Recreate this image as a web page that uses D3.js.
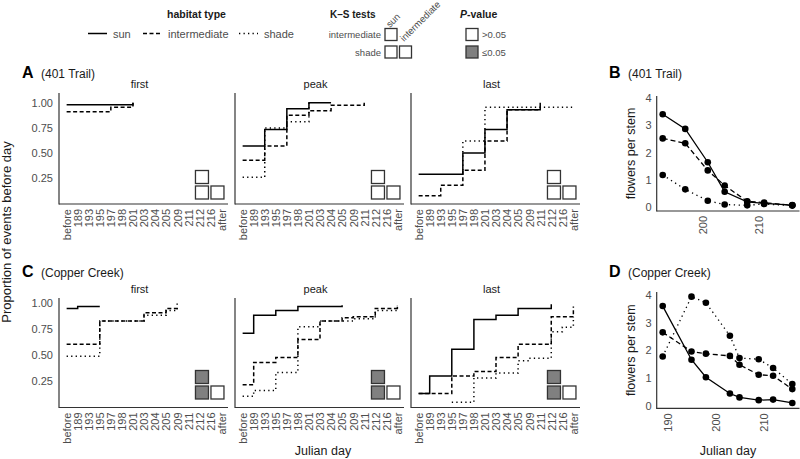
<!DOCTYPE html>
<html><head><meta charset="utf-8">
<script src="https://cdn.jsdelivr.net/npm/d3@7"></script>
<style>body{margin:0;background:#fff}svg{font-family:"Liberation Sans",Arial,Helvetica,sans-serif}</style>
</head><body><svg id="c" width="800" height="459"></svg>
<script>
// ---------- data ----------
const categories = ["before","189","193","195","197","198","201","203","204","205","209","211","212","216","after"];
const habitats = ["sun","intermediate","shade"];
const stages = ["first","peak","last"];
const propTicks = [0.25,0.5,0.75,1.0];

// 401 Trail cumulative proportions  [category, proportion]
const trailFirstSun   = [["before",0.98],["201",1.0]];
const trailFirstInt   = [["before",0.91],["197",0.955],["201",1.0]];
const trailFirstShade = [];
const trailPeakSun    = [["before",0.57],["193",0.735],["197",0.94],["201",1.0],["204",1.0]];
const trailPeakInt    = [["before",0.43],["193",0.57],["197",0.875],["201",0.92],["204",0.975],["211",1.0]];
const trailPeakShade  = [["before",0.26],["193",0.75],["197",0.81],["201",1.0]];
const trailLastSun    = [["before",0.29],["197",0.50],["201",0.735],["204",0.93],["211",1.0]];
const trailLastInt    = [["before",0.078],["193",0.18],["197",0.33],["201",0.62],["204",0.93],["211",0.93]];
const trailLastShade  = [["197",0.33],["197",0.62],["201",0.955],["after",0.955]];

// Copper Creek cumulative proportions
const copperFirstSun   = [["before",0.95],["189",0.97],["195",0.97]];
const copperFirstInt   = [["before",0.605],["195",0.83],["203",0.91],["205",0.95],["209",0.96]];
const copperFirstShade = [["before",0.49],["195",0.83],["203",0.885],["205",0.93],["209",1.0]];
const copperPeakSun    = [["before",0.71],["189",0.885],["195",0.93],["198",0.97],["205",0.98]];
const copperPeakInt    = [["before",0.215],["189",0.43],["195",0.477],["198",0.65],["203",0.83],["205",0.86],["209",0.87],["212",0.95],["after",0.98]];
const copperPeakShade  = [["before",0.103],["189",0.16],["195",0.333],["198",0.773],["203",0.83],["209",0.85],["212",0.93],["after",0.97]];
const copperLastSun    = [["before",0.13],["189",0.30],["195",0.557],["198",0.844],["203",0.885],["205",0.95],["212",0.99]];
const copperLastInt    = [["before",0.13],["195",0.30],["198",0.343],["203",0.477],["205",0.605],["212",0.87],["after",0.97]];
const copperLastShade  = [["195",0.046],["198",0.28],["203",0.327],["205",0.445],["209",0.47],["212",0.725],["216",0.77],["after",0.87]];

// K-S significance: [intermediate vs sun, shade vs sun, shade vs intermediate]  (true = P<=0.05)
const trailFirstKS  = [false,false,false];
const trailPeakKS   = [false,false,false];
const trailLastKS   = [false,false,false];
const copperFirstKS = [true,true,false];
const copperPeakKS  = [true,true,false];
const copperLastKS  = [true,true,false];

// flowers per stem
const trailDays     = [193,197,201,204,208,211,216];
const trailSun      = [3.41,2.87,1.64,0.55,0.18,0.12,0.06];
const trailInt      = [2.52,2.34,1.34,0.78,0.20,0.15,0.05];
const trailShade    = [1.17,0.64,0.22,0.08,0.05,0.10,0.04];
const copperDays    = [189,195,198,203,205,209,212,216];
const copperSun     = [3.60,1.66,1.03,0.44,0.30,0.20,0.22,0.10];
const copperInt     = [2.65,1.96,1.88,1.80,1.48,1.12,1.08,0.60];
const copperShade   = [1.78,3.94,3.72,2.53,1.72,1.68,1.36,0.78];
const flowerTicks   = [0,1,2,3,4];
const trailDayTicks = [200,210];
const copperDayTicks= [190,200,210];

// ---------- styles ----------
const dash = {sun:null, intermediate:"4,2.5", shade:"1.3,3.2"};
const dashB = {sun:null, intermediate:"5,3", shade:"1.3,3.6"};
const ink = "#1a1a1a", tickCol = "#4d4d4d", axisCol = "#333";
const svg = d3.select("#c");

// ---------- legend ----------
const lg = svg.append("g");
lg.append("text").attr("x",196.5).attr("y",18).attr("text-anchor","middle").attr("font-size",10.5).attr("font-weight","bold").attr("fill",ink).text("habitat type");
const legItems = [{h:"sun",x:88},{h:"intermediate",x:143},{h:"shade",x:239}];
legItems.forEach(d=>{
  lg.append("line").attr("x1",d.x).attr("x2",d.x+19).attr("y1",33.5).attr("y2",33.5)
    .attr("stroke","#000").attr("stroke-width",1.5).attr("stroke-dasharray",dash[d.h]);
  lg.append("text").attr("x",d.x+25).attr("y",37.5).attr("font-size",11).attr("fill",tickCol).text(d.h);
});
lg.append("text").attr("x",330).attr("y",18).attr("font-size",10).attr("font-weight","bold").attr("fill",ink).text("K–S tests");
lg.append("text").attr("x",381).attr("y",38).attr("text-anchor","end").attr("font-size",9.5).attr("fill",tickCol).text("intermediate");
lg.append("text").attr("x",381).attr("y",55.5).attr("text-anchor","end").attr("font-size",9.5).attr("fill",tickCol).text("shade");
lg.append("text").attr("transform","translate(390,28) rotate(-45)").attr("font-size",9.5).attr("fill",tickCol).text("sun");
lg.append("text").attr("transform","translate(404,42) rotate(-45)").attr("font-size",9.5).attr("fill",tickCol).text("intermediate");
[[385,28.5],[385,46],[399.5,46]].forEach(p=>lg.append("rect").attr("x",p[0]).attr("y",p[1]).attr("width",12).attr("height",12)
  .attr("fill","#fff").attr("stroke",axisCol).attr("stroke-width",1.3));
const pt = lg.append("text").attr("x",460).attr("y",18).attr("font-size",10.5).attr("font-weight","bold").attr("fill",ink);
pt.append("tspan").attr("font-style","italic").text("P");
pt.append("tspan").text("-value");
lg.append("rect").attr("x",466).attr("y",28.5).attr("width",12).attr("height",12).attr("fill","#fff").attr("stroke",axisCol).attr("stroke-width",1.3);
lg.append("rect").attr("x",466).attr("y",46).attr("width",12).attr("height",12).attr("fill","#808080").attr("stroke",axisCol).attr("stroke-width",1.3);
lg.append("text").attr("x",482).attr("y",38).attr("font-size",9.5).attr("fill",tickCol).text(">0.05");
lg.append("text").attr("x",482).attr("y",55.5).attr("font-size",9.5).attr("fill",tickCol).text("≤0.05");

// ---------- panel labels ----------
function panelLabel(letter, site, x, y){
  svg.append("text").attr("x",x).attr("y",y).attr("font-size",16).attr("font-weight","bold").attr("fill","#000").text(letter);
  svg.append("text").attr("x",x+19).attr("y",y).attr("font-size",12).attr("fill",ink).text(site);
}
panelLabel("A","(401 Trail)",22,78);
panelLabel("C","(Copper Creek)",22,276.5);
panelLabel("B","(401 Trail)",609,78);
panelLabel("D","(Copper Creek)",609,276.5);

// ---------- step panels ----------
const rows = [
  {axisY:204, y1:102.7, top:93, boxBottom:199, panels:[
    {series:{sun:trailFirstSun,intermediate:trailFirstInt,shade:trailFirstShade}, ks:trailFirstKS},
    {series:{sun:trailPeakSun,intermediate:trailPeakInt,shade:trailPeakShade}, ks:trailPeakKS},
    {series:{sun:trailLastSun,intermediate:trailLastInt,shade:trailLastShade}, ks:trailLastKS}]},
  {axisY:407.5, y1:303.3, top:298, boxBottom:399, panels:[
    {series:{sun:copperFirstSun,intermediate:copperFirstInt,shade:copperFirstShade}, ks:copperFirstKS},
    {series:{sun:copperPeakSun,intermediate:copperPeakInt,shade:copperPeakShade}, ks:copperPeakKS},
    {series:{sun:copperLastSun,intermediate:copperLastInt,shade:copperLastShade}, ks:copperLastKS}]}
];
const panelLefts = [59,235,411], panelW = 169;

rows.forEach(row=>{
  const y = d3.scaleLinear().domain([0,1]).range([row.axisY-0.5, row.y1]);
  row.panels.forEach((p,ci)=>{
    const x0 = panelLefts[ci];
    const x = d3.scalePoint().domain(categories).range([x0+1, x0+panelW]).padding(0.6);
    const g = svg.append("g");
    // strip label
    g.append("text").attr("x",x0+panelW/2-4).attr("y",row.top-5.5).attr("text-anchor","middle")
      .attr("font-size",11).attr("fill",ink).text(stages[ci]);
    // y axis
    if(ci===0){
      const ya = g.append("g").attr("transform",`translate(${x0},0)`)
        .call(d3.axisLeft(y).tickValues(propTicks).tickFormat(d3.format(".2f")).tickSize(0).tickPadding(6));
      ya.select(".domain").remove();
      ya.selectAll("text").attr("font-size",11).attr("fill",tickCol).attr("font-family",null);
    }
    g.append("line").attr("x1",x0).attr("x2",x0).attr("y1",row.top).attr("y2",row.axisY+0.6)
      .attr("stroke",axisCol).attr("stroke-width",1.2);
    // x axis
    const xa = g.append("g").attr("transform",`translate(0,${row.axisY})`)
      .call(d3.axisBottom(x).tickSize(0).tickPadding(0));
    xa.select(".domain").remove();
    xa.selectAll("text").attr("font-size",11).attr("fill",tickCol).attr("font-family",null)
      .attr("text-anchor","end").attr("transform","rotate(-90)").attr("x",-5).attr("y",0).attr("dy","0.35em");
    g.append("line").attr("x1",x0).attr("x2",x0+panelW).attr("y1",row.axisY).attr("y2",row.axisY)
      .attr("stroke",axisCol).attr("stroke-width",1.2);
    // step lines
    const line = d3.line().x(d=>x(d[0])).y(d=>y(d[1])).curve(d3.curveStepAfter);
    habitats.slice().reverse().forEach(h=>{
      const s = p.series[h];
      if(!s || !s.length) return;
      g.append("path").attr("d",line(s)).attr("fill","none").attr("stroke","#000")
        .attr("stroke-width",1.5).attr("stroke-dasharray",dash[h]);
    });
    // K-S boxes
    const bs = 13, gap = 2.5;
    const bx = x("212") - 3.8, by = row.boxBottom - bs;
    const cells = [[bx, by-bs-gap], [bx, by], [bx+bs+gap, by]];
    cells.forEach((c,i)=>g.append("rect").attr("x",c[0]).attr("y",c[1]).attr("width",bs).attr("height",bs)
      .attr("fill",p.ks[i]?"#808080":"#fff").attr("stroke",axisCol).attr("stroke-width",1.3));
  });
});

svg.append("text").attr("transform","translate(10.5,232) rotate(-90)").attr("text-anchor","middle")
  .attr("font-size",13).attr("fill",ink).text("Proportion of events before day");
svg.append("text").attr("x",323).attr("y",455).attr("text-anchor","middle").attr("font-size",12.5).attr("fill",ink).text("Julian day");

// ---------- flowers per stem panels ----------
const flowerPanels = [
  {days:trailDays, sun:trailSun, intermediate:trailInt, shade:trailShade, dayTicks:trailDayTicks,
   y0:206.7, y4:98.3, axisY:211, top:96, showTitle:false},
  {days:copperDays, sun:copperSun, intermediate:copperInt, shade:copperShade, dayTicks:copperDayTicks,
   y0:405.7, y4:295, axisY:408.3, top:292, showTitle:true}
];
flowerPanels.forEach(fp=>{
  const ax0 = 656.7, ax1 = 799.5;
  const x = d3.scaleLinear().domain(d3.extent(fp.days)).range([662.7,792.3]);
  const y = d3.scaleLinear().domain([0,4]).range([fp.y0, fp.y4]);
  const g = svg.append("g");
  const ya = g.append("g").attr("transform",`translate(${ax0},0)`)
    .call(d3.axisLeft(y).tickValues(flowerTicks).tickFormat(d3.format("d")).tickSize(0).tickPadding(5));
  ya.select(".domain").remove();
  ya.selectAll("text").attr("font-size",11).attr("fill",tickCol).attr("font-family",null);
  const xa = g.append("g").attr("transform",`translate(0,${fp.axisY})`)
    .call(d3.axisBottom(x).tickValues(fp.dayTicks).tickFormat(d3.format("d")).tickSize(0));
  xa.select(".domain").remove();
  xa.selectAll("text").attr("font-size",11).attr("fill",tickCol).attr("font-family",null)
    .attr("text-anchor","end").attr("transform","rotate(-90)").attr("x",-5).attr("y",0).attr("dy","0.35em");
  g.append("line").attr("x1",ax0).attr("x2",ax0).attr("y1",fp.top).attr("y2",fp.axisY+0.6).attr("stroke",axisCol).attr("stroke-width",1.2);
  g.append("line").attr("x1",ax0).attr("x2",ax1).attr("y1",fp.axisY).attr("y2",fp.axisY).attr("stroke",axisCol).attr("stroke-width",1.2);
  g.append("text").attr("transform",`translate(635,${(fp.top+fp.axisY)/2}) rotate(-90)`).attr("text-anchor","middle")
    .attr("font-size",12.5).attr("fill",ink).text("flowers per stem");
  habitats.forEach(h=>{
    const pts = fp.days.map((d,i)=>[d, fp[h][i]]);
    g.append("path").attr("d", d3.line().x(d=>x(d[0])).y(d=>y(d[1]))(pts)).attr("fill","none")
      .attr("stroke","#000").attr("stroke-width",1.3).attr("stroke-dasharray",dashB[h]);
    g.selectAll(null).data(pts).enter().append("circle").attr("cx",d=>x(d[0])).attr("cy",d=>y(d[1]))
      .attr("r",3.3).attr("fill","#000");
  });
  if(fp.showTitle){
    g.append("text").attr("x",728).attr("y",455).attr("text-anchor","middle").attr("font-size",12.5).attr("fill",ink).text("Julian day");
  }
});
</script>
</body></html>
